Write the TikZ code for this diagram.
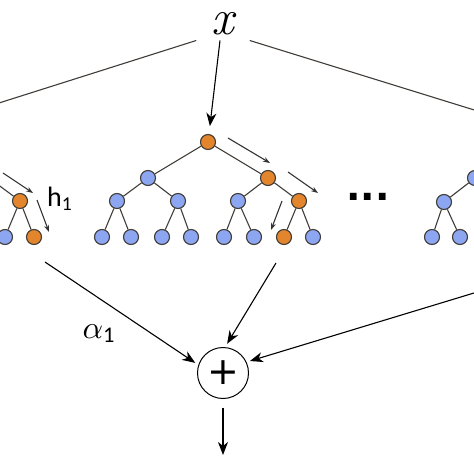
\documentclass[tikz,border=0pt]{standalone}
\usepackage{fontspec}
\usetikzlibrary{arrows.meta}
\newfontfamily\carlito{Carlito}
\newfontfamily\dejavu{DejaVu Sans}
\definecolor{treeblue}{RGB}{140,166,242}
\definecolor{treeorange}{RGB}{226,133,44}
\definecolor{rim}{RGB}{64,60,56}
\tikzset{
  tnode/.style={circle,draw=rim,fill=treeblue,line width=1.1pt,minimum size=15pt,inner sep=0pt},
  tpath/.style={tnode,fill=treeorange},
  edge/.style={draw=rim,line width=1.1pt},
  cue/.style={-{Stealth[length=7pt,width=5pt]},line width=1.1pt,black!80},
  flow/.style={-{Stealth[length=13pt,width=10pt,inset=4pt]},line width=1.1pt},
}
\begin{document}
\begin{tikzpicture}[x=1pt,y=-1pt]
\clip (0,0) rectangle (474,474);
\useasboundingbox (0,0) rectangle (474,474);

% input
\node[inner sep=0pt,minimum width=53pt,font=\itshape\fontsize{50}{50}\selectfont] (xin) at (223,24) {x};

% middle tree
\node[tpath] (mr) at (208,142) {};
\node[tnode] (ma) at (148,178) {};
\node[tpath] (mb) at (268,178) {};
\node[tnode] (maa) at (117,201) {};
\node[tnode] (mab) at (178,201) {};
\node[tnode] (mba) at (238,201) {};
\node[tpath] (mbb) at (299,201) {};
\node[tnode] (maaa) at (102,237) {};
\node[tnode] (maab) at (131,237) {};
\node[tnode] (maba) at (162,237) {};
\node[tnode] (mabb) at (191,237) {};
\node[tnode] (mbaa) at (224,237) {};
\node[tnode] (mbab) at (254,237) {};
\node[tpath] (mbba) at (284,237) {};
\node[tnode] (mbbb) at (313,237) {};
\draw[edge] (mr) -- (ma) (mr) -- (mb)
  (ma) -- (maa) (ma) -- (mab) (mb) -- (mba) (mb) -- (mbb)
  (maa) -- (maaa) (maa) -- (maab) (mab) -- (maba) (mab) -- (mabb)
  (mba) -- (mbaa) (mba) -- (mbab) (mbb) -- (mbba) (mbb) -- (mbbb);
\draw[cue] ([shift={(20,-4)}]mr.center) -- ([shift={(2,-15)}]mb.center);
\draw[cue] ([shift={(20,-6)}]mb.center) -- ([shift={(19,-8)}]mbb.center);
\draw[cue] ([shift={(-17,0)}]mbb.center) -- ([shift={(-13,-7)}]mbba.center);

% left tree (cut off)
\coordinate (lb) at (-11,178);
\node[tpath] (lbb) at (20,201) {};
\node[tnode] (lbba) at (5,237) {};
\node[tpath] (lbbb) at (34,237) {};
\draw[edge] (lb) -- (lbb) (lbb) -- (lbba) (lbb) -- (lbbb);
\draw[cue] ([shift={(14,-5)}]lb) -- ([shift={(13,-8)}]lbb.center);
\draw[cue] ([shift={(17,-1)}]lbb.center) -- ([shift={(15,-5)}]lbbb.center);
\node[anchor=base west,inner sep=0pt,font=\carlito\fontsize{28}{28}\selectfont] (hlab) at (47,206) {h\textsubscript{1}};

% right tree (cut off)
\node[tnode] (ra) at (475,178) {};
\node[tnode] (raa) at (444,202) {};
\node[tnode] (raaa) at (432,237) {};
\node[tnode] (raab) at (460,237) {};
\draw[edge] (ra) -- (raa) (raa) -- (raaa) (raa) -- (raab);

\node[anchor=base,inner sep=0pt,font=\dejavu\bfseries\fontsize{38}{38}\selectfont] (dots) at (368,200) {...};

% input to the trees
\coordinate (lfar) at (-102,135);
\coordinate (rfar) at (555,135);
\draw[edge] ([yshift=-5pt]xin.south west) -- (lfar);
\draw[edge] ([yshift=-5pt]xin.south east) -- (rfar);
\draw[flow,shorten >=8pt] ([shift={(-3,5)}]xin.south) -- (mr);

% sum
\node[circle,draw,line width=1pt,minimum size=51pt,inner sep=0pt,outer sep=4pt,font=\dejavu\fontsize{38}{38}\selectfont] (sum) at (223,373) {+};
\coordinate (lout) at (45,262);
\coordinate (mout) at (276,263);
\coordinate (rout) at (530,276);
\coordinate (out) at (223,455);
\draw[flow] (lout) -- (sum.160);
\draw[flow] (mout) -- (sum.82);
\draw[flow] (rout) -- (sum.24);
\draw[flow,shorten <=5pt] (sum) -- (out);
\node[anchor=base west,inner sep=0pt,scale=3.2] (alab) at (82,338) {$\alpha$\textsubscript{\carlito 1}};
\end{tikzpicture}
\end{document}
